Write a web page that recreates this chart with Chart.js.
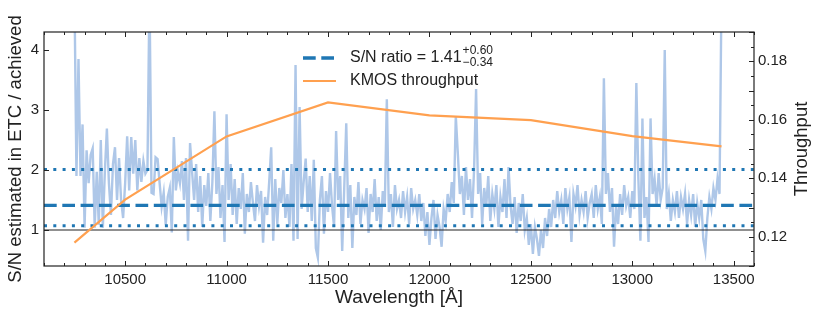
<!DOCTYPE html>
<html>
<head>
<meta charset="utf-8">
<title>S/N ratio vs KMOS throughput</title>
<script src="https://cdn.jsdelivr.net/npm/chart.js@4.4.1/dist/chart.umd.min.js"></script>
<style>
  html, body { margin: 0; padding: 0; background: #fff; }
</style>
</head>
<body>
<canvas id="chart" width="822" height="320"></canvas>
<script>
// ---- data ----
// S/N ratio (ETC estimate / achieved) sampled every 10 A from 10250 A
const WL_START = 10250;
const WL_STEP = 10;
const snRatio = [
  5.0, 1.9, 3.85, 1.9, 2.76, 1.04, 2.33, 1.78, 2.25, 2.36,       // 10250
  1.04, 1.97, 1.09, 2.5, 1.04, 1.97, 2.69, 1.78, 1.25, 2.1,      // 10350
  2.38, 1.5, 2.2, 1.5, 1.2, 1.78, 2.56, 1.66, 2.55, 1.94,        // 10450
  2.5, 1.66, 2.2, 1.8, 2.15, 1.94, 2.0, 5.0, 1.62, 1.6,          // 10550
  2.21, 2.18, 1.78, 1.39, 1.62, 1.09, 1.55, 1.7, 0.96, 2.55,     // 10650
  1.66, 1.97, 1.78, 2.15, 1.5, 2.2, 0.82, 2.45, 1.97, 1.5,       // 10750
  2.1, 1.3, 1.9, 1.05, 1.75, 1.4, 1.95, 1.15, 1.8, 2.98,         // 10850
  1.6, 2.05, 1.2, 1.75, 0.8, 2.93, 1.5, 2.1, 1.25, 1.85,         // 10950
  1.1, 1.7, 1.35, 1.95, 0.94, 1.6, 1.3, 1.8, 1.45, 1.15,         // 11050
  1.75, 1.4, 1.65, 0.79, 1.55, 1.25, 1.8, 2.38, 0.82, 1.85,      // 11150
  1.1, 1.7, 1.45, 2.0, 1.2, 1.6, 1.05, 2.1, 0.82, 3.75,          // 11250
  0.85, 3.05, 1.35, 1.8, 2.19, 1.3, 1.9, 1.15, 2.17, 0.7,        // 11350
  0.54, 1.5, 1.9, 0.94, 1.65, 1.3, 1.95, 1.4, 1.05, 2.65,        // 11450
  1.5, 1.9, 0.65, 1.7, 2.78, 1.2, 1.75, 0.7, 1.55, 1.25,         // 11550
  1.8, 1.1, 1.5, 1.35, 1.7, 0.95, 1.6, 1.3, 1.85, 1.15,          // 11650
  1.55, 1.0, 1.65, 1.4, 3.18, 1.3, 1.6, 1.05, 1.75, 1.35,        // 11750
  1.5, 1.2, 1.65, 1.3, 1.55, 1.1, 1.7, 1.35, 1.5, 1.25,          // 11850
  1.6, 1.15, 1.45, 0.9, 1.3, 0.75, 1.2, 1.5, 0.85, 1.25,         // 11950
  1.05, 0.72, 1.35, 1.15, 1.6, 1.3, 1.8, 1.45, 2.9, 2.28,        // 12050
  1.6, 1.9, 1.25, 2.05, 1.5, 1.85, 1.2, 2.0, 3.35, 1.6,          // 12150
  1.95, 1.1, 1.7, 1.4, 1.9, 1.15, 1.6, 1.35, 1.75, 1.05,         // 12250
  1.55, 1.3, 1.85, 1.2, 2.05, 1.4, 1.1, 1.55, 0.95, 1.45,        // 12350
  1.15, 1.6, 1.0, 1.2, 0.75, 1.1, 0.6, 1.05, 0.85, 0.57,         // 12450
  1.0, 0.7, 1.2, 0.9, 1.35, 1.05, 1.5, 1.2, 1.65, 1.3,           // 12550
  1.5, 1.1, 1.7, 1.35, 1.55, 0.8, 1.6, 1.4, 1.75, 1.25,          // 12650
  1.5, 1.3, 1.65, 1.2, 1.45, 1.6, 1.2, 1.75, 1.35, 1.55,         // 12750
  1.1, 3.53, 1.6, 1.95, 1.3, 1.7, 0.72, 1.4, 1.1, 1.6,           // 12850
  1.25, 1.75, 1.4, 1.55, 1.2, 1.65, 1.35, 3.45, 1.85, 0.82,      // 12950
  2.86, 1.2, 1.55, 0.8, 2.86, 1.6, 1.85, 1.4, 1.95, 1.5,         // 13050
  1.7, 4.0, 1.35, 1.6, 1.15, 1.5, 1.3, 1.65, 1.2, 1.55,          // 13150
  1.35, 1.6, 1.1, 1.5, 1.25, 1.6, 1.05, 1.45, 1.2, 1.5,          // 13250
  0.85, 0.65, 1.2, 1.55, 1.35, 1.7, 1.5, 1.85, 1.6, 5.0          // 13350
];

// KMOS throughput curve (right axis)
const tpWavelength = [10250, 10500, 11000, 11500, 12000, 12500, 13000, 13440];
const tpValues     = [0.118, 0.1327, 0.1543, 0.1659, 0.1615, 0.1599, 0.1544, 0.1509];

// median S/N ratio and its spread
const SN_MEDIAN = 1.41;
const SN_PLUS = 0.60;
const SN_MINUS = 0.34;
const UNITY = 1.0;

// axes
const X_RANGE = [10100, 13600];
const Y_RANGE = [0.4, 4.3];
const Y2_RANGE = [0.11, 0.19];
const xTicks = [10500, 11000, 11500, 12000, 12500, 13000, 13500];
const yTicks = [1, 2, 3, 4];
const y2Ticks = [0.12, 0.14, 0.16, 0.18];

const FONT = "'Liberation Sans', Arial, Helvetica, sans-serif";
const TEXT = '#222';
const DASH = [12.7, 5.6];
const DOT = [3, 6.3];

const spectrum = snRatio.map((v, i) => ({ x: WL_START + i * WL_STEP, y: v }));
const throughput = tpWavelength.map((w, i) => ({ x: w, y: tpValues[i] }));
const hline = y => X_RANGE.map(x => ({ x: x, y: y }));

// frame, inward ticks, legend and right-hand title drawn on top
const decorPlugin = {
  id: 'decor',
  afterDraw(chart) {
    const { ctx, chartArea: a, scales } = chart;
    ctx.save();
    ctx.strokeStyle = TEXT;
    ctx.lineWidth = 1.2;
    ctx.strokeRect(a.left, a.top, a.right - a.left, a.bottom - a.top);

    ctx.lineWidth = 1;
    ctx.beginPath();
    for (let w = X_RANGE[0]; w <= X_RANGE[1]; w += 100) {
      const px = Math.round(scales.x.getPixelForValue(w)) + 0.5;
      const len = w % 500 === 0 ? 5 : 3;
      ctx.moveTo(px, a.bottom); ctx.lineTo(px, a.bottom - len);
      ctx.moveTo(px, a.top); ctx.lineTo(px, a.top + len);
    }
    yTicks.forEach(v => {
      const py = Math.round(scales.y.getPixelForValue(v)) + 0.5;
      ctx.moveTo(a.left, py); ctx.lineTo(a.left + 5, py);
    });
    for (let k = 0; k <= 16; k++) {
      const v = Y2_RANGE[0] + k * 0.005;
      const py = Math.round(scales.y2.getPixelForValue(v)) + 0.5;
      const len = k % 2 === 0 ? 5 : 3;
      ctx.moveTo(a.right, py); ctx.lineTo(a.right - len, py);
    }
    ctx.stroke();

    // legend
    const lx = 303, ly1 = 58, ly2 = 81;
    ctx.lineWidth = 3.3;
    ctx.strokeStyle = '#1f77b4';
    ctx.setLineDash(DASH);
    ctx.beginPath(); ctx.moveTo(lx, ly1); ctx.lineTo(lx + 33, ly1); ctx.stroke();
    ctx.setLineDash([]);
    ctx.lineWidth = 2.2;
    ctx.strokeStyle = '#ffa04f';
    ctx.beginPath(); ctx.moveTo(lx, ly2); ctx.lineTo(lx + 33, ly2); ctx.stroke();

    ctx.fillStyle = TEXT;
    ctx.textBaseline = 'middle';
    ctx.textAlign = 'left';
    ctx.font = '16px ' + FONT;
    const label = 'S/N ratio = ' + SN_MEDIAN.toFixed(2);
    ctx.fillText(label, 350, ly1);
    const w = ctx.measureText(label).width;
    ctx.font = '12px ' + FONT;
    ctx.fillText('+' + SN_PLUS.toFixed(2), 350 + w + 1, ly1 - 7);
    ctx.fillText('\u2212' + SN_MINUS.toFixed(2), 350 + w + 1, ly1 + 5);
    ctx.font = '16px ' + FONT;
    ctx.fillText('KMOS throughput', 350, ly2);

    // right axis title, reading bottom to top
    ctx.save();
    ctx.translate(802, (a.top + a.bottom) / 2);
    ctx.rotate(-Math.PI / 2);
    ctx.textAlign = 'center';
    ctx.font = '18.5px ' + FONT;
    ctx.fillText('Throughput', 0, 0);
    ctx.restore();

    ctx.restore();
  }
};

new Chart(document.getElementById('chart'), {
  type: 'line',
  data: {
    datasets: [
      {
        label: 'KMOS throughput', data: throughput, yAxisID: 'y2',
        borderColor: '#ffa04f', borderWidth: 2.2, pointRadius: 0, order: 1
      },
      {
        label: 'S/N ratio', data: hline(SN_MEDIAN), yAxisID: 'y',
        borderColor: '#1f77b4', borderWidth: 3.3, borderDash: DASH, pointRadius: 0, order: 2
      },
      {
        label: 'upper', data: hline(SN_MEDIAN + SN_PLUS), yAxisID: 'y',
        borderColor: '#1f77b4', borderWidth: 3, borderDash: DOT, pointRadius: 0, order: 3
      },
      {
        label: 'lower', data: hline(SN_MEDIAN - SN_MINUS), yAxisID: 'y',
        borderColor: '#1f77b4', borderWidth: 3, borderDash: DOT, pointRadius: 0, order: 4
      },
      {
        label: 'unity', data: hline(UNITY), yAxisID: 'y',
        borderColor: '#222', borderWidth: 1.2, pointRadius: 0, order: 5
      },
      {
        label: 'spectrum', data: spectrum, yAxisID: 'y',
        borderColor: '#aec7e8', borderWidth: 2.4, pointRadius: 0, order: 10
      }
    ]
  },
  options: {
    responsive: false,
    animation: false,
    events: [],
    layout: { padding: { top: 32, left: 0, right: 0, bottom: 0 } },
    plugins: { legend: { display: false }, tooltip: { enabled: false } },
    scales: {
      x: {
        type: 'linear', min: X_RANGE[0], max: X_RANGE[1],
        grid: { display: false, drawTicks: false },
        border: { display: false },
        afterBuildTicks: s => { s.ticks = xTicks.map(v => ({ value: v })); },
        afterFit: s => { s.height = 54; },
        ticks: { color: TEXT, padding: 5, maxRotation: 0, font: { family: FONT, size: 15 }, callback: v => String(v) },
        title: { display: true, text: 'Wavelength [\u00c5]', color: TEXT, padding: { top: 0, bottom: 11 }, font: { family: FONT, size: 19 } }
      },
      y: {
        type: 'linear', position: 'left', min: Y_RANGE[0], max: Y_RANGE[1],
        grid: { display: false, drawTicks: false },
        border: { display: false },
        afterBuildTicks: s => { s.ticks = yTicks.map(v => ({ value: v })); },
        afterFit: s => { s.width = 44; },
        ticks: { color: TEXT, padding: 5, font: { family: FONT, size: 15 }, callback: v => String(v) },
        title: { display: true, text: 'S/N estimated in ETC / achieved', color: TEXT, padding: { top: 5, bottom: 0 }, font: { family: FONT, size: 18.5 } }
      },
      y2: {
        type: 'linear', position: 'right', min: Y2_RANGE[0], max: Y2_RANGE[1],
        grid: { display: false, drawTicks: false },
        border: { display: false },
        afterBuildTicks: s => { s.ticks = y2Ticks.map(v => ({ value: v })); },
        afterFit: s => { s.width = 68; },
        ticks: { color: TEXT, padding: 4, font: { family: FONT, size: 15 }, callback: v => v.toFixed(2) }
      }
    }
  },
  plugins: [decorPlugin]
});
</script>
</body>
</html>
